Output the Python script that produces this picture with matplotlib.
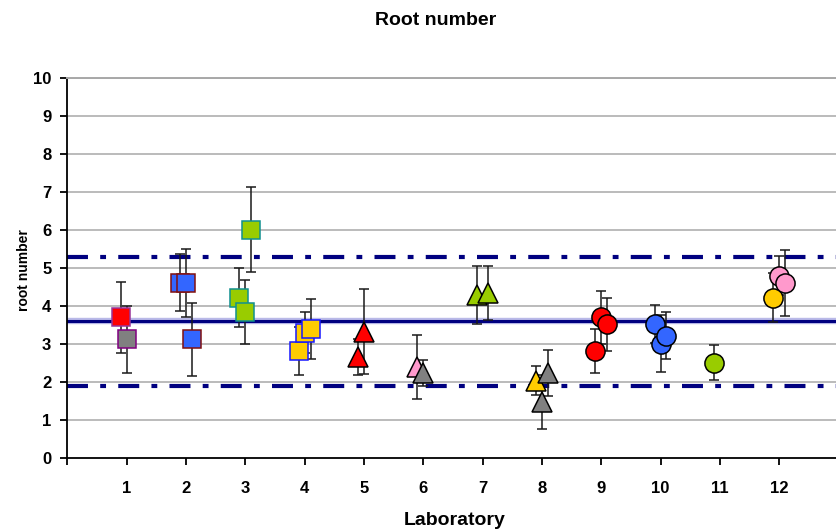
import matplotlib
matplotlib.use("Agg")
import matplotlib.pyplot as plt

plt.rcParams['font.family'] = ['Liberation Sans', 'DejaVu Sans']
plt.rcParams['lines.scale_dashes'] = False

# Laboratory results: one entry per reported mean (with its standard deviation)
lab = [1, 1, 2, 2, 2, 3, 3, 3, 4, 4, 4, 5, 5, 6, 6, 7, 7, 8, 8, 8,
       9, 9, 9, 10, 10, 10, 11, 12, 12, 12]
value = [3.71, 3.13, 4.62, 4.62, 3.13, 4.23, 3.84, 6.01, 2.83, 3.31, 3.40,
         2.66, 3.33, 2.41, 2.24, 4.29, 4.36, 2.04, 1.48, 2.25,
         2.82, 3.71, 3.53, 3.53, 3.01, 3.22, 2.52, 4.23, 4.81, 4.62]
sd = [0.93, 0.89, 0.75, 0.89, 0.96, 0.78, 0.84, 1.12, 0.63, 0.53, 0.78,
      0.48, 1.12, 0.84, 0.35, 0.76, 0.71, 0.38, 0.70, 0.60,
      0.57, 0.70, 0.70, 0.50, 0.75, 0.62, 0.47, 0.64, 0.51, 0.87]
colour = ['red', 'grey', 'blue', 'blue', 'blue', 'green', 'green', 'green',
          'yellow', 'yellow', 'yellow', 'red', 'red', 'pink', 'grey',
          'green', 'green', 'yellow', 'grey', 'grey',
          'red', 'red', 'red', 'blue', 'blue', 'blue', 'green',
          'yellow', 'pink', 'pink']

# Consensus value and acceptance limits
consensus = 3.62
upper_limit = 5.31
lower_limit = 1.91

x_ticks = list(range(1, 13))
y_ticks = list(range(0, 11))

# Horizontal placement of each entry inside its laboratory slot
slot = [-1, 0, -1, 0, 1, -1, 0, 1, -1, 0, 1, -1, 0, -1, 0, -1, 1, -1, 0, 1,
        -1, 0, 1, -1, 0, 1, -1, -1, 0, 1]
slot_width = 0.1

face = {'red': '#FF0000', 'grey': '#808080', 'blue': '#3366FF',
        'green': '#99CC00', 'yellow': '#FFCC00', 'pink': '#FF99CC'}
square_edge = {'red': '#993399', 'grey': '#800080', 'blue': '#801010',
               'green': '#109090', 'yellow': '#1818FF', 'pink': '#993366'}


def shape_for(lab_no):
    if lab_no <= 4:
        return 's'
    if lab_no <= 8:
        return '^'
    return 'o'


fig = plt.figure(figsize=(8.37, 5.31), dpi=100)
W, H = 837.0, 531.0
ax = fig.add_axes([67.3 / W, 72.7 / H, (838.5 - 67.3) / W, (458.3 - 78.3) / H])
ax.set_xlim(0, 13)
ax.set_ylim(0, 10)

# Grid
for yv in y_ticks[1:]:
    ax.axhline(yv, color='#a8a8a8', lw=1.1, zorder=0)

# Consensus and limits
ax.axhline(consensus, color='#b9b9e8', lw=4.6, zorder=1)
ax.axhline(consensus, color='#000080', lw=2.2, zorder=1.1)
for lim in (upper_limit, lower_limit):
    ax.axhline(lim, color='#000080', lw=3.0, zorder=1.1,
               linestyle=(0, (15.1, 8.8, 4.2, 8.8)), dash_capstyle='butt')

# Error bars first, markers on top
for i in range(len(value)):
    x = lab[i] + slot[i] * slot_width
    ax.errorbar(x, value[i], yerr=sd[i], fmt='none', ecolor='#1a1a1a',
                elinewidth=1.1, capsize=3.6, capthick=1.1, zorder=2)

for i in range(len(value)):
    x = lab[i] + slot[i] * slot_width
    m = shape_for(lab[i])
    if m == 's':
        ec, ms = square_edge[colour[i]], 13.4
    elif m == '^':
        ec, ms = '#000000', 14.0
    else:
        ec, ms = '#000000', 13.8
    ax.plot([x], [value[i]], linestyle='none', marker=m, ms=ms,
            mfc=face[colour[i]], mec=ec, mew=1.1, zorder=3 + i * 0.01)

# Axes styling
ax.spines['right'].set_visible(False)
ax.spines['top'].set_color('#a8a8a8')
ax.spines['top'].set_linewidth(1.4)
for s in ('left', 'bottom'):
    ax.spines[s].set_color('#000000')
    ax.spines[s].set_linewidth(1.3)

ax.set_xticks([0] + x_ticks)
ax.set_xticklabels([''] + [str(t) for t in x_ticks])
ax.set_yticks(y_ticks)
ax.set_yticklabels([str(t) for t in y_ticks])
ax.tick_params(axis='x', direction='out', length=5, width=1.3, pad=11,
               labelsize=12)
ax.tick_params(axis='y', direction='out', length=5, width=1.3, pad=6.5,
               labelsize=12)
for lbl in ax.get_xticklabels() + ax.get_yticklabels():
    lbl.set_fontweight('bold')

fig.text(435.7 / W, 1 - 25 / H, 'Root number', ha='center', va='baseline',
         fontsize=14, fontweight='bold')
fig.text(455 / W, 1 - 525 / H, 'Laboratory', ha='center', va='baseline',
         fontsize=14, fontweight='bold')
fig.text(24 / W, 1 - 270 / H, 'root number', ha='center', va='center',
         rotation=90, fontsize=10, fontweight='bold')

fig.savefig('out.png', dpi=100)
